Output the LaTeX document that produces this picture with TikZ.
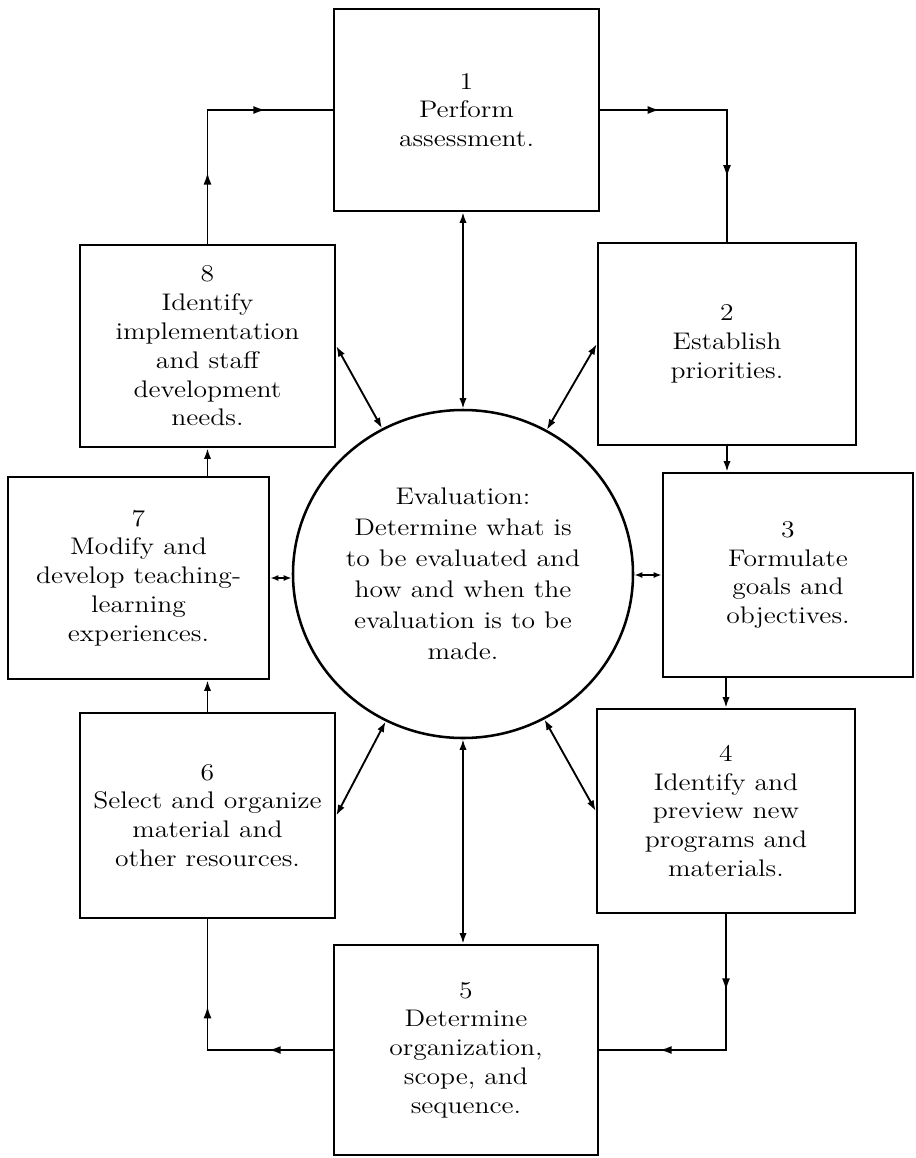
\documentclass[tikz,border=0pt]{standalone}
\usepackage{fontspec}
\setmainfont{lmroman12-regular.otf}[FakeStretch=1.15]
\usetikzlibrary{shapes.geometric,arrows.meta,decorations.markings,calc}
\begin{document}
\begin{tikzpicture}[x=0.75pt,y=-0.75pt,
  >={Latex[length=8pt,width=5.5pt]},
  box/.style={draw, line width=1.9pt, align=center, inner sep=0pt,
    font=\fontsize{18}{21.6}\selectfont},
  evalnode/.style={draw, ellipse, line width=1.9pt, align=center, inner sep=0pt,
    font=\fontsize{18}{23.25}\selectfont},
  conn/.style={line width=1.4pt},
  shortconn/.style={line width=1.4pt, {Latex[length=6pt,width=4.5pt]}-{Latex[length=6pt,width=4.5pt]}},
  flowmarks/.style 2 args={postaction={decorate}, decoration={markings,
    mark=at position #1 with {\arrow{Latex[length=9pt,width=6pt]}},
    mark=at position #2 with {\arrow{Latex[length=9pt,width=6pt]}}}}
]
\useasboundingbox (0,0) rectangle (915,1158);
\fill[white] (0,0) rectangle (915,1158);

% boxes
\node[box, minimum width=198.75pt, minimum height=151.5pt] (b1) at (466.5,110)
  {1\\Perform\\assessment.};
\node[box, minimum width=193.5pt, minimum height=151.5pt] (b2) at (727,344)
  {2\\Establish\\priorities.};
\node[box, minimum width=187.5pt, minimum height=153pt] (b3) at (788,575)
  {3\\Formulate\\goals and\\objectives.};
\node[box, minimum width=193.5pt, minimum height=153pt] (b4) at (726,811)
  {4\\Identify and\\preview new\\programs and\\materials.};
\node[box, minimum width=198pt, minimum height=157.5pt] (b5) at (466,1050)
  {5\\Determine\\organization,\\scope, and\\sequence.};
\node[box, minimum width=191.25pt, minimum height=153.75pt] (b6) at (207.5,815.5)
  {6\\Select and organize\\material and\\other resources.};
\node[box, minimum width=195.75pt, minimum height=151.5pt] (b7) at (138.5,578)
  {7\\Modify and\\develop teaching-\\learning\\experiences.};
\node[box, minimum width=191.25pt, minimum height=151.5pt] (b8) at (207.5,346)
  {8\\Identify\\implementation\\and staff\\development\\needs.};

% central evaluation ellipse
\node[evalnode, minimum width=255pt, minimum height=246pt] (ev) at (463,574)
  {Evaluation:\\Determine what is\\to be evaluated and\\how and when the\\evaluation is to be\\made.};

% cycle connectors
\draw[conn, flowmarks={0.275}{0.74}] (b8.north) -- (b8.north |- b1.west) -- (b1.west);
\draw[conn, flowmarks={0.23}{0.75}] (b1.east) -- (b2.north |- b1.east) -- (b2.north);
\draw[conn, ->] (b2.south) -- (b2.south |- b3.north);
\draw[conn, ->] (b4.north |- b3.south) -- (b4.north);
\draw[conn, flowmarks={0.29}{0.77}] (b4.south) -- (b4.south |- b5.east) -- (b5.east);
\draw[conn, flowmarks={0.25}{0.66}] (b5.west) -- (b6.south |- b5.west) -- (b6.south);
\draw[conn, ->] (b6.north) -- (b6.north |- b7.south);
\draw[conn, ->] (b8.south |- b7.north) -- (b8.south);

% connectors to/from evaluation
\draw[conn, <->] (ev.north) -- (ev.north |- b1.south);
\draw[conn, <->] (ev.south) -- (ev.south |- b5.north);
\draw[conn, <->] (b2.west) -- (ev);
\draw[conn, <->] (b8.east) -- (ev);
\draw[conn, <->] (b6.east) -- (ev);
\draw[conn, <->] (b4.west) -- (ev);
\draw[shortconn] (b7.east) -- (ev.west |- b7.east);
\draw[shortconn] (ev.east |- b3.west) -- (b3.west);
\end{tikzpicture}
\end{document}
